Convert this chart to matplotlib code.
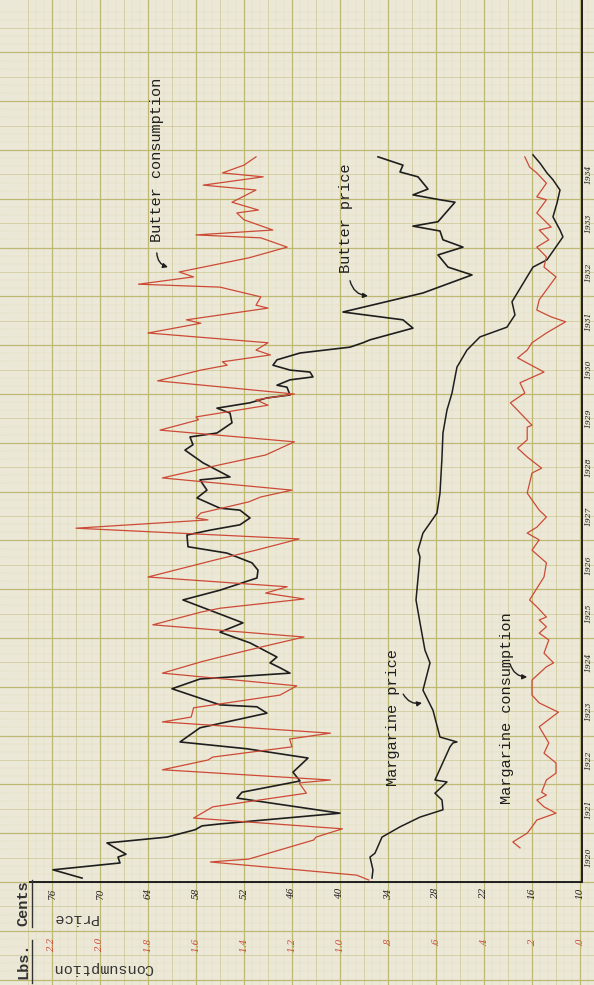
import matplotlib
matplotlib.use("Agg")
import matplotlib.pyplot as plt
from matplotlib.lines import Line2D

# ---- data (monthly turning points) ----
# butter price, cents per lb
bp_year = [1920.08, 1920.25, 1920.39, 1920.51, 1920.57, 1920.80, 1920.92, 1921.07, 1921.15, 1921.19,
           1921.41, 1921.72, 1921.84, 1922.07, 1922.25, 1922.54, 1922.73, 1922.87, 1923.16, 1923.46,
           1923.59, 1923.63, 1923.96, 1924.16, 1924.28, 1924.39, 1924.49, 1924.61, 1924.90, 1925.12,
           1925.31, 1925.78, 1925.98, 1926.23, 1926.39, 1926.54, 1926.74, 1926.87, 1927.11, 1927.21,
           1927.32, 1927.46, 1927.62, 1927.66, 1927.87, 1928.03, 1928.24, 1928.30, 1928.44, 1928.59,
           1928.85, 1928.96, 1929.12, 1929.20, 1929.41, 1929.61, 1929.71, 1929.82, 1929.92, 1929.98,
           1930.14, 1930.18, 1930.29, 1930.35, 1930.45, 1930.49, 1930.59, 1930.70, 1930.84, 1930.96,
           1931.05, 1931.11, 1931.35, 1931.52, 1931.68, 1932.07, 1932.44, 1932.60, 1932.85, 1933.01,
           1933.16, 1933.34, 1933.44, 1933.53, 1933.93, 1933.98, 1934.08, 1934.20, 1934.45, 1934.55,
           1934.69, 1934.86]
bp_cents = [72.25, 75.88, 67.5, 67.75, 66.75, 69.13, 61.63, 58.13, 57.25, 55.0,
            40.0, 52.88, 52.25, 45.0, 45.88, 44.0, 51.63, 60.0, 57.5, 49.13,
            50.38, 55.0, 61.0, 57.5, 46.25, 47.5, 48.75, 47.88, 51.25, 55.0,
            52.13, 59.63, 55.0, 50.38, 50.25, 51.0, 54.13, 59.0, 59.13, 56.25,
            52.5, 51.25, 52.5, 55.0, 57.88, 56.63, 57.5, 53.75, 55.38, 57.13,
            59.38, 58.38, 58.75, 55.38, 53.5, 53.75, 55.38, 51.25, 49.13, 46.25,
            46.63, 47.88, 46.25, 43.38, 43.75, 46.25, 48.38, 47.88, 45.0, 38.75,
            37.13, 36.25, 30.88, 32.13, 39.63, 29.63, 23.5, 26.5, 27.75, 24.63,
            27.13, 27.5, 30.88, 27.75, 25.63, 27.5, 30.88, 29.0, 30.25, 32.5,
            32.13, 35.25]

# butter consumption, lbs per capita
bc_year = [1920.04, 1920.14, 1920.41, 1920.47, 1920.86, 1920.92, 1921.09, 1921.31, 1921.54, 1921.82,
           1922.03, 1922.09, 1922.30, 1922.50, 1922.56, 1922.77, 1922.93, 1923.05, 1923.28, 1923.38,
           1923.57, 1923.83, 1924.02, 1924.28, 1924.51, 1924.61, 1924.86, 1925.02, 1925.27, 1925.53,
           1925.61, 1925.80, 1925.92, 1926.05, 1926.25, 1926.60, 1926.80, 1927.03, 1927.25, 1927.42,
           1927.46, 1927.56, 1927.79, 1927.89, 1928.03, 1928.28, 1928.55, 1928.75, 1929.02, 1929.26,
           1929.47, 1929.53, 1929.77, 1929.88, 1930.00, 1930.27, 1930.49, 1930.59, 1930.66, 1930.80,
           1930.90, 1931.05, 1931.25, 1931.45, 1931.52, 1931.76, 1931.82, 1931.99, 1932.19, 1932.25,
           1932.40, 1932.50, 1932.79, 1933.01, 1933.20, 1933.26, 1933.36, 1933.57, 1933.71, 1933.77,
           1933.93, 1934.18, 1934.28, 1934.45, 1934.53, 1934.69, 1934.86]
bc_lbs = [0.88, 0.93, 1.54, 1.38, 1.11, 1.10, 0.99, 1.61, 1.53, 1.14,
          1.17, 1.04, 1.74, 1.55, 1.53, 1.20, 1.21, 1.04, 1.74, 1.62,
          1.61, 1.25, 1.18, 1.74, 1.58, 1.50, 1.29, 1.15, 1.78, 1.58,
          1.50, 1.15, 1.31, 1.22, 1.80, 1.52, 1.35, 1.17, 2.10, 1.55,
          1.60, 1.58, 1.38, 1.33, 1.20, 1.74, 1.50, 1.31, 1.19, 1.75,
          1.59, 1.60, 1.30, 1.35, 1.19, 1.76, 1.58, 1.47, 1.49, 1.29,
          1.35, 1.30, 1.80, 1.58, 1.64, 1.30, 1.35, 1.33, 1.50, 1.84,
          1.61, 1.67, 1.38, 1.22, 1.33, 1.60, 1.28, 1.40, 1.43, 1.34,
          1.45, 1.35, 1.57, 1.32, 1.49, 1.40, 1.35]

# margarine price, cents per lb
mp_year = [1920.08, 1920.25, 1920.51, 1920.59, 1920.92, 1921.13, 1921.33, 1921.48, 1921.68, 1921.82,
           1922.05, 1922.09, 1922.77, 1922.85, 1922.87, 1922.97, 1923.52, 1923.93, 1924.49, 1924.75,
           1925.31, 1925.78, 1926.66, 1926.80, 1927.15, 1927.56, 1927.97, 1928.71, 1929.20, 1929.67,
           1930.02, 1930.55, 1930.90, 1931.17, 1931.37, 1931.62, 1931.89, 1932.60, 1932.75, 1933.22,
           1933.36, 1933.63, 1933.91, 1934.18, 1934.39, 1934.53, 1934.73, 1934.90]
mp_cents = [36.0, 35.88, 36.25, 35.63, 34.75, 32.5, 30.0, 27.13, 27.25, 28.13,
            26.63, 28.13, 26.25, 25.88, 25.38, 27.5, 28.38, 29.63, 28.75, 29.38,
            30.0, 30.5, 30.0, 30.25, 29.63, 27.88, 27.5, 27.25, 27.13, 26.63,
            26.0, 25.38, 24.13, 22.5, 19.13, 18.13, 18.5, 15.88, 14.13, 12.13,
            12.5, 13.38, 12.88, 12.5, 13.38, 14.13, 15.0, 15.88]

# margarine consumption, lbs per capita
mc_year = [1920.70, 1920.82, 1921.00, 1921.13, 1921.27, 1921.41, 1921.54, 1921.68, 1921.78, 1921.84,
           1922.09, 1922.23, 1922.44, 1922.64, 1922.85, 1923.18, 1923.48, 1923.67, 1923.83, 1924.14,
           1924.41, 1924.49, 1924.69, 1924.96, 1925.10, 1925.23, 1925.37, 1925.43, 1925.64, 1925.78,
           1926.25, 1926.54, 1926.80, 1927.01, 1927.15, 1927.27, 1927.48, 1927.62, 1927.97, 1928.38,
           1928.48, 1928.71, 1928.89, 1929.06, 1929.32, 1929.36, 1929.82, 1930.02, 1930.23, 1930.45,
           1930.74, 1930.90, 1931.05, 1931.25, 1931.48, 1931.58, 1931.72, 1931.93, 1932.40, 1932.60,
           1932.81, 1933.01, 1933.16, 1933.36, 1933.42, 1933.71, 1933.98, 1934.04, 1934.32, 1934.53,
           1934.65, 1934.86]
mc_lbs = [0.25, 0.28, 0.22, 0.20, 0.18, 0.10, 0.15, 0.18, 0.14, 0.16,
          0.14, 0.10, 0.10, 0.15, 0.13, 0.17, 0.09, 0.17, 0.20, 0.20,
          0.14, 0.11, 0.15, 0.13, 0.17, 0.14, 0.17, 0.14, 0.18, 0.21,
          0.15, 0.14, 0.20, 0.17, 0.22, 0.18, 0.14, 0.17, 0.22, 0.20,
          0.16, 0.22, 0.26, 0.22, 0.22, 0.20, 0.29, 0.23, 0.25, 0.15,
          0.26, 0.22, 0.20, 0.14, 0.06, 0.12, 0.18, 0.17, 0.10, 0.15,
          0.14, 0.18, 0.13, 0.17, 0.12, 0.18, 0.14, 0.18, 0.14, 0.18,
          0.21, 0.23]

price_ticks = [76, 70, 64, 58, 52, 46, 40, 34, 28, 22, 16, 10]
cons_ticks = [2.2, 2.0, 1.8, 1.6, 1.4, 1.2, 1.0, 0.8, 0.6, 0.4, 0.2, 0.0]
cons_labels = ["2.2", "2.0", "1.8", "1.6", "1.4", "1.2", "1.0", ".8", ".6", ".4", ".2", ".0"]
years = list(range(1920, 1935))

PAPER = "#ece8d7"
GRID = "#bfb774"
RED = "#cc4a36"
INK = "#1e1e1e"
TYPE = "Liberation Mono"
HAND = "DejaVu Serif"

W, H = 594, 985
fig = plt.figure(figsize=(W / 100, H / 100), dpi=100, facecolor=PAPER)


# the sheet is turned on its side: price runs right to left, time runs upwards
def px_price(x):
    return 10 + (580 - x) / 8.0


def px_year(y):
    return 1920 + (882 - y) / 48.8


def to_cons(p):
    return (p - 10) / 30.0


# graph paper behind everything
bg = fig.add_axes([0, 0, 1, 1])
bg.set_xlim(px_price(0), px_price(W))
bg.set_ylim(px_year(H), px_year(0))
bg.axis("off")
bg.set_facecolor(PAPER)
for k in range(0, 76):
    p = 4 + k
    if (p - 10) % 6 == 0:
        bg.axvline(p, color=GRID, lw=0.9, zorder=0)
    elif (p - 10) % 3 == 0:
        bg.axvline(p, color=GRID, lw=0.5, alpha=0.7, zorder=0)
    else:
        bg.axvline(p, color=GRID, lw=0.35, alpha=0.35, ls=(0, (2, 1.5)), zorder=0)
for k in range(0, 21 * 6):
    yr = 1917 + k / 6.0
    if k % 6 == 0:
        bg.axhline(yr, color=GRID, lw=0.9, zorder=0)
    elif k % 3 == 0:
        bg.axhline(yr, color=GRID, lw=0.5, alpha=0.7, zorder=0)
    else:
        bg.axhline(yr, color=GRID, lw=0.35, alpha=0.35, ls=(0, (2, 1.5)), zorder=0)

# plotting area
ax = fig.add_axes([30 / W, (H - 882) / H, (582 - 30) / W, 882 / H])
ax.patch.set_alpha(0)
ax.set_xlim(px_price(30), px_price(582))
ax.set_ylim(1920, px_year(0))
for side in ["left", "top"]:
    ax.spines[side].set_visible(False)
for side in ["bottom", "right"]:
    ax.spines[side].set_color(INK)
    ax.spines[side].set_linewidth(1.4)

ax.set_xticks(price_ticks)
ax.set_xticklabels([str(v) for v in price_ticks], rotation=90, fontsize=6.5,
                   fontstyle="italic", family=HAND, color=INK)
ax.tick_params(axis="x", length=0, pad=4)
ax.yaxis.tick_right()
ax.set_yticks([y + 0.5 for y in years])
ax.set_yticklabels([str(y) for y in years], rotation=90, fontsize=5.5,
                   fontstyle="italic", family=HAND, color=INK, va="center")
ax.tick_params(axis="y", length=0, pad=2)

# consumption shares the sheet, on its own scale
axc = ax.twiny()
axc.set_xlim(to_cons(px_price(30)), to_cons(px_price(582)))
for s in axc.spines.values():
    s.set_visible(False)
axc.xaxis.tick_bottom()
axc.set_xticks(cons_ticks)
axc.set_xticklabels(cons_labels, rotation=90, fontsize=6.5, fontstyle="italic",
                    family=HAND, color=RED)
axc.tick_params(axis="x", length=0, pad=40)

ax.plot(bp_cents, bp_year, color=INK, lw=1.2, zorder=4)
ax.plot(mp_cents, mp_year, color=INK, lw=1.1, zorder=4)
axc.plot(bc_lbs, bc_year, color=RED, lw=0.9, zorder=3)
axc.plot(mc_lbs, mc_year, color=RED, lw=0.9, zorder=3)

# typed labels with hand-drawn arrows
ax.text(62.9, 1934.80, "Butter consumption", rotation=90, ha="center", va="center",
        family=TYPE, fontsize=11, color=INK)
ax.text(39.25, 1933.61, "Butter price", rotation=90, ha="center", va="center",
        family=TYPE, fontsize=11, color=INK)
ax.text(33.4, 1923.36, "Margarine price", rotation=90, ha="center", va="center",
        family=TYPE, fontsize=11, color=INK)
ax.text(19.1, 1923.57, "Margarine consumption", rotation=90, ha="center", va="center",
        family=TYPE, fontsize=11, color=INK)

arrow = dict(arrowstyle="-|>", color=INK, lw=1.0, mutation_scale=7,
             connectionstyle="arc3,rad=0.35", shrinkA=0, shrinkB=0)
ax.annotate("", xy=(61.5, 1932.60), xytext=(62.9, 1932.89), arrowprops=arrow)
ax.annotate("", xy=(36.5, 1932.01), xytext=(38.75, 1932.32), arrowprops=arrow)
ax.annotate("", xy=(29.75, 1923.67), xytext=(32.1, 1923.85), arrowprops=arrow)
ax.annotate("", xy=(16.6, 1924.20), xytext=(18.75, 1924.47), arrowprops=arrow)

# axis captions in the margin
fig.text(75 / W, 1 - 918 / H, "Price", rotation=180, ha="center", va="center",
         family=TYPE, fontsize=11, color="#333333")
fig.text(103 / W, 1 - 968 / H, "Consumption", rotation=180, ha="center", va="center",
         family=TYPE, fontsize=11, color="#333333")
fig.text(23 / W, 1 - 903 / H, "Cents", rotation=90, ha="center", va="center",
         family=TYPE, fontsize=11, fontweight="bold", color="#333333")
fig.text(23 / W, 1 - 961 / H, "Lbs.", rotation=90, ha="center", va="center",
         family=TYPE, fontsize=11, fontweight="bold", color="#333333")
fig.add_artist(Line2D([32 / W, 32 / W], [1 - 880 / H, 1 - 927 / H], color="#333333", lw=1.0))
fig.add_artist(Line2D([32 / W, 32 / W], [1 - 940 / H, 1 - 983 / H], color="#333333", lw=1.0))

fig.savefig("out.png", dpi=100, facecolor=PAPER)
